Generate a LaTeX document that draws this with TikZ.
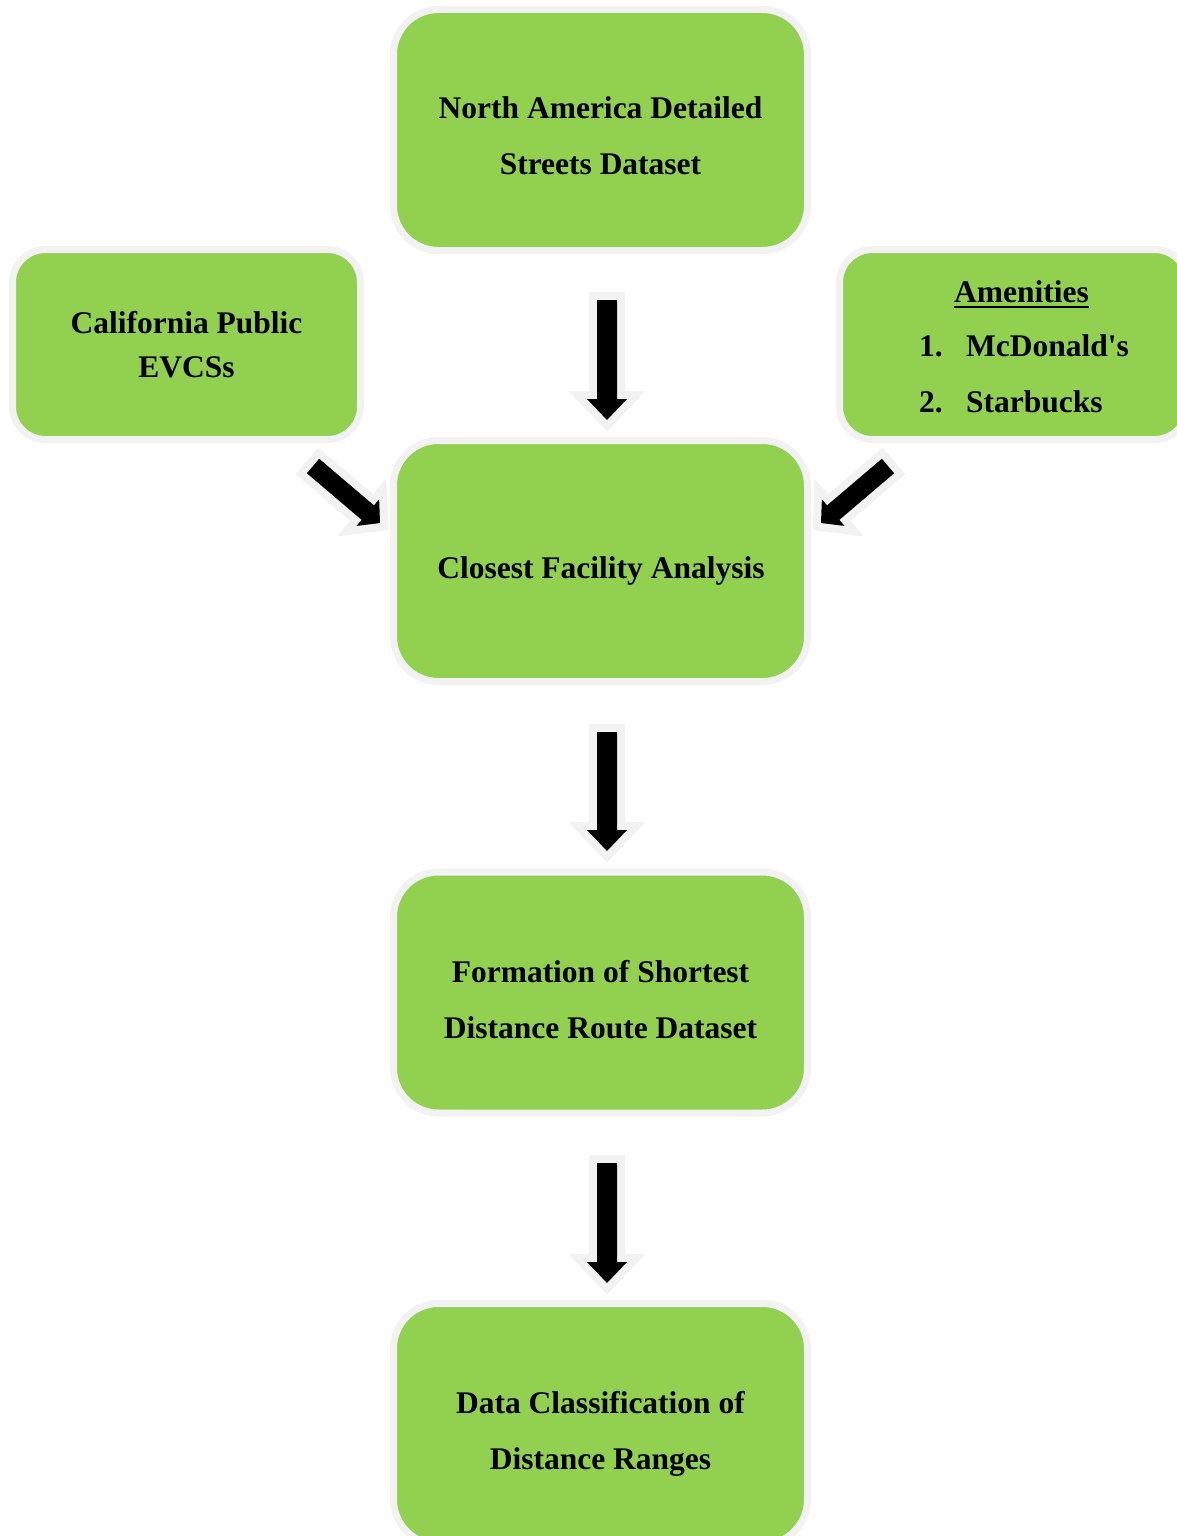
\documentclass[tikz,border=0pt]{standalone}
\usepackage{fontspec}
\setmainfont{Liberation Serif}
\usetikzlibrary{calc}
\definecolor{boxgreen}{HTML}{92D050}
\definecolor{rimgrey}{HTML}{F2F2F2}
\tikzset{
  bigbox/.style={draw=rimgrey, line width=7pt, fill=boxgreen, rounded corners=45pt,
    minimum width=414pt, minimum height=241pt, inner sep=0pt},
  smallbox/.style={draw=rimgrey, line width=7pt, fill=boxgreen, rounded corners=33pt,
    minimum width=348pt, minimum height=190pt, inner sep=0pt},
  txt/.style={font=\fontsize{31.5}{38}\bfseries\selectfont, inner sep=0pt, anchor=base},
  txtl/.style={txt, anchor=base west},
  blockarr/.style={fill=black, preaction={draw=rimgrey, line width=16pt, line join=miter, miter limit=6}}
}
% #1 start (shaft back centre), #2 tip, #3 shaft half width, #4 head half width, #5 head length
\newcommand\blockarrow[5]{%
  \coordinate (bac) at ($(#2)!#5!(#1)$);
  \path[blockarr]
    ($(#1)!#3!90:(#2)$) -- ($(bac)!#3!-90:(#1)$) -- ($(bac)!#4!-90:(#1)$) -- (#2)
    -- ($(bac)!#4!90:(#1)$) -- ($(bac)!#3!90:(#1)$) -- ($(#1)!#3!-90:(#2)$) -- cycle;
}
\begin{document}
\begin{tikzpicture}[x=1pt,y=-1pt]
\path[use as bounding box] (0,0) rectangle (1177,1536);
\clip (0,0) rectangle (1177,1536);

% boxes
\node[bigbox] (streets) at (600.5,130) {};
\node[smallbox] (evcs) at (186.5,344.5) {};
\node[smallbox] (amen) at (1013.5,344.5) {};
\node[bigbox] (closest) at (600.5,561) {};
\node[bigbox] (formation) at (600.5,992.5) {};
\node[bigbox] (classif) at (600.5,1424) {};

% texts
\node[txt] (t1a) at (600.5,119) {North America Detailed};
\node[txt] (t1b) at (600.5,175) {Streets Dataset};
\node[txt] (t2a) at (186.5,333) {California Public};
\node[txt] (t2b) at (186.5,377) {EVCSs};
\node[txt] (t3) at (1021.5,302) {Amenities};
\draw[line width=2.6pt] ($(t3.base west)+(0,4.8)$) -- ($(t3.base east)+(0,4.8)$);
\node[txtl] (t3n1) at (919,356) {1.};
\node[txtl] (t3a) at (966,356) {McDonald\textquotesingle s};
\node[txtl] (t3n2) at (919,412) {2.};
\node[txtl] (t3b) at (966,412) {Starbucks};
\node[txt] (t4) at (601,578) {Closest Facility Analysis};
\node[txt] (t5a) at (600.5,982) {Formation of Shortest};
\node[txt] (t5b) at (600.5,1038) {Distance Route Dataset};
\node[txt] (t6a) at (600.5,1413) {Data Classification of};
\node[txt] (t6b) at (600.5,1469) {Distance Ranges};

% arrow end points
\coordinate (a1s) at (607,300);  \coordinate (a1t) at (607,420);
\coordinate (a2s) at (313,466);  \coordinate (a2t) at (380,523);
\coordinate (a3s) at (888,466);  \coordinate (a3t) at (821,523);
\coordinate (a4s) at (607,732);  \coordinate (a4t) at (607,851);
\coordinate (a5s) at (607,1163); \coordinate (a5t) at (607,1283);

\blockarrow{a1s}{a1t}{10pt}{20pt}{21pt}
\blockarrow{a2s}{a2t}{9.5pt}{17.5pt}{16pt}
\blockarrow{a3s}{a3t}{9.5pt}{17.5pt}{16pt}
\blockarrow{a4s}{a4t}{10pt}{20pt}{21pt}
\blockarrow{a5s}{a5t}{10pt}{20pt}{21pt}
\end{tikzpicture}
\end{document}
